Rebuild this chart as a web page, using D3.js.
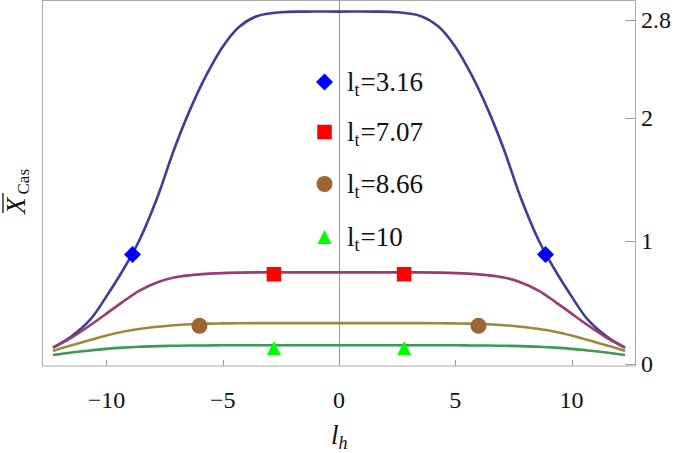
<!DOCTYPE html>
<html>
<head>
<meta charset="utf-8">
<script src="https://cdn.jsdelivr.net/npm/d3@7"></script>
<style>
  html, body { margin: 0; padding: 0; background: #fff; }
  svg { display: block; }
  text { font-family: 'Liberation Serif', 'Times New Roman', Tinos, 'DejaVu Serif', serif; }
</style>
</head>
<body>
<div id="chart"></div>
<script>
// x samples (l_h) shared by all curves
const xs = [-12.3, -11.5, -10.7, -10, -9.3, -8.6, -7.8, -7.1, -6.4, -5.7, -5, -4.3, -3.5, -2.5, -1.5, 0,
            1.5, 2.5, 3.5, 4.3, 5, 5.7, 6.4, 7.1, 7.8, 8.6, 9.3, 10, 10.7, 11.5, 12.3];

const blueVals = [0.133, 0.225, 0.36, 0.55, 0.76, 1.0, 1.36, 1.74, 2.07, 2.35, 2.58, 2.74, 2.83, 2.86, 2.865, 2.865,
                  2.865, 2.86, 2.83, 2.74, 2.58, 2.35, 2.07, 1.74, 1.36, 1.0, 0.76, 0.55, 0.36, 0.225, 0.133];
const purpleVals = [0.133, 0.215, 0.315, 0.41, 0.505, 0.595, 0.665, 0.703, 0.722, 0.733, 0.739, 0.743, 0.745, 0.745, 0.745, 0.745,
                    0.745, 0.745, 0.745, 0.743, 0.739, 0.733, 0.722, 0.703, 0.665, 0.595, 0.505, 0.41, 0.315, 0.215, 0.133];
const oliveVals = [0.106, 0.152, 0.195, 0.231, 0.262, 0.285, 0.303, 0.315, 0.323, 0.328, 0.33, 0.331, 0.332, 0.332, 0.332, 0.332,
                   0.332, 0.332, 0.332, 0.331, 0.33, 0.328, 0.323, 0.315, 0.303, 0.285, 0.262, 0.231, 0.195, 0.152, 0.106];
const greenVals = [0.073, 0.093, 0.11, 0.123, 0.133, 0.14, 0.145, 0.148, 0.15, 0.151, 0.152, 0.152, 0.152, 0.152, 0.152, 0.152,
                   0.152, 0.152, 0.152, 0.152, 0.152, 0.151, 0.15, 0.148, 0.145, 0.14, 0.133, 0.123, 0.11, 0.093, 0.073];

// marker points
const diamondPts = [[-8.88, 0.89], [8.88, 0.89]];
const squarePts = [[-2.8, 0.73], [2.8, 0.73]];
const circlePts = [[-6.0, 0.31], [6.0, 0.31]];
const trianglePts = [[-2.8, 0.13], [2.8, 0.13]];

const legendLabels = ['3.16', '7.07', '8.66', '10'];
const xTicks = [-10, -5, 0, 5, 10];
const yTicks = [0, 1, 2, 2.8];

const FONT = "'Liberation Serif', 'Times New Roman', Tinos, 'DejaVu Serif', serif";
const W = 675, H = 453;
const svg = d3.select('#chart').append('svg').attr('width', W).attr('height', H)
  .style('font-family', FONT);

const x = d3.scaleLinear().domain([-12.75, 12.75]).range([42.5, 635.5]);
const y = d3.scaleLinear().domain([0, 2.8]).range([364, 19.6]);
const frameTop = 0.5, frameBottom = 366;

// frame
svg.append('rect')
  .attr('x', x.range()[0]).attr('y', frameTop)
  .attr('width', x.range()[1] - x.range()[0]).attr('height', frameBottom - frameTop)
  .attr('fill', 'none').attr('stroke', '#aaa').attr('stroke-width', 1);

// vertical axis line at 0
svg.append('line')
  .attr('x1', Math.round(x(0)) + 0.5).attr('x2', Math.round(x(0)) + 0.5)
  .attr('y1', frameTop).attr('y2', frameBottom)
  .attr('stroke', '#999').attr('stroke-width', 1);

// bottom ticks (inward)
const bt = svg.append('g');
xTicks.forEach(t => {
  const px = Math.round(x(t)) + 0.5;
  bt.append('line').attr('x1', px).attr('x2', px).attr('y1', frameBottom).attr('y2', frameBottom - 6)
    .attr('stroke', '#999').attr('stroke-width', 1);
  bt.append('text').attr('x', x(t)).attr('y', 408)
    .attr('text-anchor', 'middle').attr('font-size', 24).attr('fill', '#111')
    .style('font-family', FONT)
    .text(t < 0 ? '\u2212' + Math.abs(t) : String(t));
});

// right ticks (inward)
const rt = svg.append('g');
yTicks.forEach(t => {
  const py = Math.round(y(t)) + 0.5;
  rt.append('line').attr('x1', x.range()[1]).attr('x2', x.range()[1] - 10).attr('y1', py).attr('y2', py)
    .attr('stroke', '#999').attr('stroke-width', 1);
  rt.append('text').attr('x', 641).attr('y', y(t) + 8)
    .attr('font-size', 24).attr('fill', '#111').style('font-family', FONT).text(String(t));
});

// curves
const line = d3.line().x(d => x(d[0])).y(d => y(d[1])).curve(d3.curveCatmullRom.alpha(0.5));
const series = [
  { vals: blueVals, color: '#3f3d99' },
  { vals: purpleVals, color: '#993d71' },
  { vals: oliveVals, color: '#998b3d' },
  { vals: greenVals, color: '#3d9956' },
];
series.forEach(s => {
  svg.append('path')
    .datum(xs.map((v, i) => [v, s.vals[i]]))
    .attr('d', line)
    .attr('fill', 'none').attr('stroke', s.color).attr('stroke-width', 2.6);
});

// marker drawers
function diamond(g, cx, cy) {
  const r = 8.5;
  g.append('path').attr('d', `M${cx},${cy - r}L${cx + r},${cy}L${cx},${cy + r}L${cx - r},${cy}Z`).attr('fill', '#0000ff');
}
function square(g, cx, cy) {
  const s = 14.5;
  g.append('rect').attr('x', cx - s / 2).attr('y', cy - s / 2).attr('width', s).attr('height', s).attr('fill', '#ff0000');
}
function circle(g, cx, cy) {
  g.append('circle').attr('cx', cx).attr('cy', cy).attr('r', 8).attr('fill', '#9a6633');
}
function triangle(g, cx, cy) {
  const w = 14, h = 14;
  g.append('path').attr('d', `M${cx},${cy - h / 2}L${cx + w / 2},${cy + h / 2}L${cx - w / 2},${cy + h / 2}Z`).attr('fill', '#00ff00');
}

const mk = svg.append('g');
diamondPts.forEach(p => diamond(mk, x(p[0]), y(p[1])));
squarePts.forEach(p => square(mk, x(p[0]), y(p[1])));
circlePts.forEach(p => circle(mk, x(p[0]), y(p[1])));
trianglePts.forEach(p => triangle(mk, x(p[0]), y(p[1])));

// legend
const legendRows = [82, 132, 184, 237];
const drawers = [diamond, square, circle, triangle];
const lg = svg.append('g');
legendLabels.forEach((lab, i) => {
  drawers[i](lg, 324.5, legendRows[i]);
  const t = lg.append('text').attr('x', 347).attr('y', legendRows[i] + 9)
    .attr('font-size', 27).attr('fill', '#111').style('font-family', FONT);
  t.append('tspan').text('l');
  t.append('tspan').attr('font-size', 18).attr('dy', 5).text('t');
  t.append('tspan').attr('dy', -5).attr('dx', 1).text('=' + lab);
});

// x axis label
const xl = svg.append('text').attr('x', 331).attr('y', 444).attr('font-size', 27)
  .attr('font-style', 'italic').attr('fill', '#111').style('font-family', FONT);
xl.append('tspan').text('l');
xl.append('tspan').attr('font-size', 18).attr('dy', 5).text('h');

// y axis label (rotated)
const yl = svg.append('text').attr('transform', 'translate(25,214) rotate(-90)')
  .attr('font-size', 27).attr('fill', '#111').style('font-family', FONT);
yl.append('tspan').attr('font-style', 'italic').text('X');
yl.append('tspan').attr('font-size', 17).attr('dy', 4).attr('dx', 3).text('Cas');
svg.append('line').attr('x1', 3).attr('x2', 3).attr('y1', 193).attr('y2', 213)
  .attr('stroke', '#111').attr('stroke-width', 1.3);
</script>
</body>
</html>
